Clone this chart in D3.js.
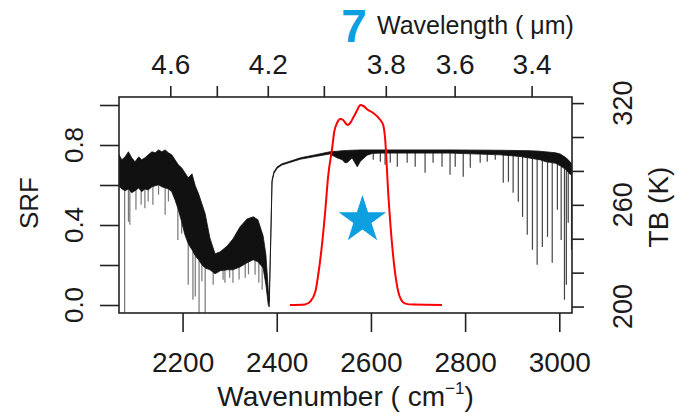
<!DOCTYPE html>
<html>
<head>
<meta charset="utf-8">
<script src="https://cdn.jsdelivr.net/npm/d3@7"></script>
<style>
  body { margin: 0; background: #fff; }
  text { font-family: "Liberation Sans", Arial, sans-serif; fill: #1a1a1a; }
</style>
</head>
<body>
<svg id="chart" width="675" height="416"></svg>
<script>
// brightness temperature spectrum: dense band (upper / lower envelope, K)
const bandWn = [2065,2071,2078,2085,2092,2099,2107,2113,2120,2127,2135,2142,2149,2156,2163,2170,2177,2184,2191,2198,2205,2212,2220,2227,2234,2241,2248,
  2258,2269,2280,2295,2307,2322,2337,2350,2360,2371,2377,2382,
  2384,2388,2390,2394,2401,2411,2428,2450,2482,2513,2528,2539,2545,2550,2560,2571,2577,2581,2592,2603,2620,2662,2768,2875,2917,2939,2960,2970,2992,3002,3013,3019,3028];
const bandHi = [289.5,286.6,288.3,291.3,287.7,285.4,288.3,286.6,287.7,289.5,291.3,290.7,292.4,291.3,292.4,290.7,289.5,286.6,283.6,281.8,278.9,275.9,278.3,271.2,266.5,260.6,254.7,
  240.5,231.1,232.3,235.8,239.9,247.0,251.7,252.9,251.2,241.7,230.5,209.9,
  203,250,274.7,279.5,282.4,284.2,285.7,287.7,289.5,291.3,291.6,291.9,292.0,292.1,292.2,292.3,292.4,292.4,292.4,292.4,292.4,292.4,292.4,292.2,292.0,291.9,291.6,291.3,290.7,290.0,288.0,286.6,283.6];
const bandLo = [271.2,269.4,268.3,269.4,267.1,268.3,270.0,267.7,269.4,268.8,270.6,271.2,271.8,270.6,270.0,269.4,267.7,262.9,257.1,250.0,242.3,237.0,233.5,229.9,227.6,224.6,222.8,
  221.7,219.3,221.1,221.7,221.7,223.4,225.8,227.6,226.4,222.8,212.8,201.0,
  199.8,248,273.5,278.5,281.6,283.5,285.0,286.9,288.5,290.0,287.7,286.6,284.8,285.0,287.7,282.4,285.4,286.6,289.3,290.3,290.5,290.5,290.5,289.5,288.5,287.5,286.5,285.5,284.5,283.0,281.0,279.0,277.0];

// absorption lines: wavenumber and minimum TB (K)
const dipWn = [2077,2085,2088,2101,2112,2120,2127,2137,2149,2163,2170,2190,2198,2212,2222,2227,2235,2241,2248,2265,2286,2290,2300,2307,2320,2333,2340,2354,2362,2369,
  2605,2620,2630,2641,2656,2677,2694,2715,2732,2751,2768,2779,2796,2811,2832,2847,2864,2881,2892,2902,2913,2922,2932,2943,2953,2964,2975,2985,2996,3004,3011,3015,3019,3026];
const dipTb = [196.3,250.0,248.2,257.1,260.0,258.0,262.0,260.0,266.0,254.1,262.0,239.3,243.0,212.8,204.0,206.0,196.3,215.0,196.3,212.8,215.8,214.0,217.0,214.0,216.0,217.0,219.0,218.7,214.0,209.9,
  286.6,285.4,283.6,284.8,282.4,284.8,282.4,278.9,284.8,282.4,277.7,282.4,276.5,281.8,284.8,285.4,286.6,273.0,273.6,267.1,261.8,252.9,242.3,233.5,224.6,235.2,241.1,225.8,257.1,239.3,204.0,212.8,249.4,233.5];

// spectral response function, channel 7
const srfWn = [2428,2460,2471,2482,2488,2496,2503,2509,2518,2522,2528,2535,2541,2550,2556,2562,2571,2577,2584,2594,2605,2620,2626,2630,2637,2645,2654,2662,2673,2690,2751];
const srfVal = [0.0,0.003,0.017,0.067,0.15,0.30,0.47,0.64,0.79,0.865,0.91,0.93,0.925,0.90,0.91,0.935,0.975,1.0,0.995,0.975,0.96,0.925,0.90,0.835,0.55,0.30,0.117,0.037,0.007,0.002,0.0];

const starPoint = [2582, 0.425];

const wnTicks = [2200,2400,2600,2800,3000];
const wlTicks = [4.6,4.4,4.2,4.0,3.8,3.6,3.4];
const wlLabels = ["4.6","","4.2","","3.8","3.6","3.4"];
const srfTicks = [0,0.2,0.4,0.6,0.8,1.0];
const srfLabels = [0,0.4,0.8];
const tbTicks = [200,220,240,260,280,300,320];
const tbLabels = [200,260,320];

const blue = "#0e9fe1";
const svg = d3.select("#chart");
const box = {left:119, right:572, top:97, bottom:313};

const x = d3.scaleLinear().domain([2065,3027]).range([box.left,box.right]);
const ySrf = d3.scaleLinear().domain([-0.04,1.04]).range([box.bottom,box.top]);
const yTb = d3.scaleLinear().domain([196.2,323.6]).range([box.bottom,box.top]);
const loAt = d3.scaleLinear().domain(bandWn).range(bandLo);

svg.append("clipPath").attr("id","plotclip")
  .append("rect")
  .attr("x",box.left).attr("y",box.top)
  .attr("width",box.right-box.left).attr("height",box.bottom-box.top);

const plot = svg.append("g").attr("clip-path","url(#plotclip)");

// absorption lines
plot.append("g")
  .selectAll("line")
  .data(dipWn)
  .join("line")
  .attr("x1",d=>x(d)).attr("x2",d=>x(d))
  .attr("y1",d=>yTb(loAt(d)))
  .attr("y2",(d,i)=>yTb(dipTb[i]))
  .attr("stroke",d=>d<2500 ? "#777" : "#444")
  .attr("stroke-width",1.2);

// dense band
const band = bandWn.map((w,i)=>({w, hi:bandHi[i], lo:bandLo[i]}));
plot.append("path")
  .datum(band)
  .attr("fill","#111")
  .attr("stroke","#111")
  .attr("stroke-width",0.8)
  .attr("d", d3.area().x(d=>x(d.w)).y0(d=>yTb(d.lo)).y1(d=>yTb(d.hi)));

// SRF curve
plot.append("path")
  .datum(srfWn.map((w,i)=>[w,srfVal[i]]))
  .attr("fill","none")
  .attr("stroke","#ff0000")
  .attr("stroke-width",2)
  .attr("d", d3.line().x(d=>x(d[0])).y(d=>ySrf(d[1])).curve(d3.curveMonotoneX));

// star
svg.append("path")
  .attr("d", d3.symbol().type(d3.symbolStar).size(700)())
  .attr("transform", "translate("+x(starPoint[0])+","+ySrf(starPoint[1])+")")
  .attr("fill", blue);

// box
svg.append("rect")
  .attr("x",box.left).attr("y",box.top)
  .attr("width",box.right-box.left).attr("height",box.bottom-box.top)
  .attr("fill","none").attr("stroke","#222").attr("stroke-width",1.6);

// bottom axis
svg.append("g")
  .attr("transform","translate(0,"+box.bottom+")")
  .call(d3.axisBottom(x).tickValues(wnTicks).tickSize(19).tickPadding(20).tickFormat(d3.format("d")));

// top axis (wavelength, um)
svg.append("g")
  .attr("transform","translate(0,"+box.top+")")
  .call(d3.axisTop(x).tickValues(wlTicks.map(l=>10000/l)).tickSize(11).tickPadding(12)
    .tickFormat((d,i)=>wlLabels[i]));

// left axis SRF
svg.append("g")
  .attr("transform","translate("+box.left+",0)")
  .call(d3.axisLeft(ySrf).tickValues(srfTicks).tickSize(19).tickFormat(""));

// right axis TB
svg.append("g")
  .attr("transform","translate("+box.right+",0)")
  .call(d3.axisRight(yTb).tickValues(tbTicks).tickSize(12).tickFormat(""));

svg.selectAll(".domain").remove();
svg.selectAll(".tick line").attr("stroke","#222").attr("stroke-width",1.6);
svg.selectAll(".tick text").attr("font-size",28).attr("fill","#1a1a1a")
  .attr("font-family","Liberation Sans, Arial, sans-serif");

// rotated tick labels
svg.append("g").selectAll("text")
  .data(srfLabels)
  .join("text")
  .attr("transform",d=>"translate(83,"+ySrf(d)+") rotate(-90)")
  .attr("text-anchor","middle")
  .attr("font-size",26)
  .text(d=>d3.format(".1f")(d));

svg.append("g").selectAll("text")
  .data(tbLabels)
  .join("text")
  .attr("transform",d=>"translate(632,"+yTb(d)+") rotate(-90)")
  .attr("text-anchor","middle")
  .attr("font-size",27)
  .text(d=>d);

// axis titles
svg.append("text")
  .attr("transform","translate(38,203) rotate(-90)")
  .attr("text-anchor","middle")
  .attr("font-size",26)
  .text("SRF");

svg.append("text")
  .attr("transform","translate(668,207) rotate(-90)")
  .attr("text-anchor","middle")
  .attr("font-size",28)
  .text("TB (K)");

const xt = svg.append("text")
  .attr("x",(box.left+box.right)/2).attr("y",406)
  .attr("text-anchor","middle")
  .attr("font-size",28);
xt.append("tspan").text("Wavenumber ( cm");
xt.append("tspan").attr("font-size",17).attr("dy",-12).text("\u22121");
xt.append("tspan").attr("dy",12).text(")");

svg.append("text")
  .attr("x",354).attr("y",42)
  .attr("text-anchor","middle")
  .attr("font-size",46)
  .attr("font-weight","bold")
  .style("fill",blue)
  .text("7");

svg.append("text")
  .attr("x",377).attr("y",34)
  .attr("font-size",25)
  .text("Wavelength ( \u03bcm)");
</script>
</body>
</html>
